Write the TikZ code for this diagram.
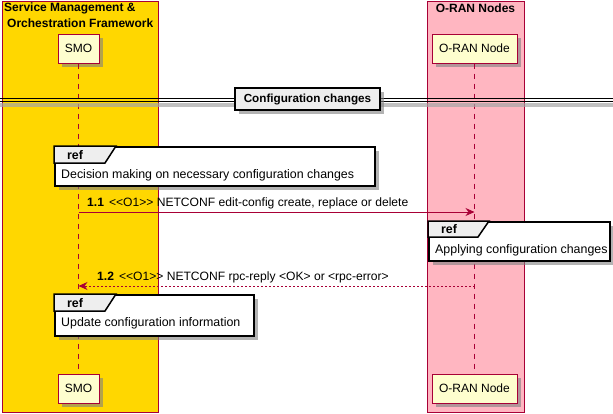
\documentclass[tikz,border=0pt]{standalone}
\usepackage{fontspec}
\setmainfont{Liberation Sans}
\usetikzlibrary{arrows.meta,shadows,calc}
\definecolor{pumlred}{HTML}{A80036}
\definecolor{pumlyel}{HTML}{FEFECE}
\definecolor{boxgold}{HTML}{FFD700}
\definecolor{boxpink}{HTML}{FFB6C1}
\definecolor{tabgray}{HTML}{EEEEEE}
\begin{document}
\begin{tikzpicture}[x=1pt,y=-1pt,
  softshadow/.style={drop shadow={shadow xshift=4pt,shadow yshift=-4pt,fill=black!50,opacity=0.6}},
  part/.style={draw=pumlred,fill=pumlyel,line width=1pt,minimum height=29pt,inner sep=0pt,
    font=\fontsize{12}{14}\selectfont,softshadow},
  grp/.style={draw=pumlred,line width=1pt,anchor=north west,inner sep=0pt},
  grptitle/.style={font=\bfseries\fontsize{12}{15}\selectfont,inner sep=0pt},
  life/.style={draw=pumlred,line width=0.8pt,dash pattern=on 5pt off 5pt},
  refframe/.style={draw=black,line width=1.5pt,fill=white,anchor=north west,inner sep=0pt,softshadow},
  reftab/.style={draw=black,line width=1.5pt,fill=tabgray},
  reflabel/.style={font=\bfseries\fontsize{12.4}{14}\selectfont,inner sep=0pt},
  reftext/.style={font=\fontsize{12.4}{14}\selectfont,inner sep=0pt,anchor=west},
  msg/.style={draw=pumlred,line width=0.8pt,-{Stealth[length=9pt,width=8pt,inset=3pt]}},
  msgtext/.style={font=\fontsize{12.1}{14}\selectfont,inner sep=0pt,anchor=west},
  divbox/.style={draw=black,line width=1.5pt,fill=tabgray,inner sep=0pt,minimum width=145pt,minimum height=22pt,
    font=\bfseries\fontsize{11.7}{14}\selectfont,softshadow}
]
\useasboundingbox (0,0) rectangle (613,413);
% groups
\node[grp,fill=boxgold,minimum width=156pt,minimum height=411.5pt] (gsmo) at (1.5,0.5) {};
\node[grp,fill=boxpink,minimum width=97pt,minimum height=411.5pt] (goran) at (427,0.5) {};
\node[grptitle,anchor=west] (gsmot1) at (4,8) {Service Management \&};
\node[grptitle,anchor=west] (gsmot2) at (7,23) {Orchestration Framework};
\node[grptitle] (gorant) at (475.5,8) {O-RAN Nodes};
% participants
\node[part,minimum width=41pt] (smot) at (78.5,48.5) {SMO};
\node[part,minimum width=85pt] (orant) at (474.5,48.5) {O-RAN Node};
\node[part,minimum width=41pt] (smob) at (78.5,388.5) {SMO};
\node[part,minimum width=85pt] (oranb) at (474.5,388.5) {O-RAN Node};
% lifelines
\draw[life] (smot.south) -- (smob.north);
\draw[life] (orant.south) -- (oranb.north);
% divider
\fill[black!35,opacity=0.7] (0,102.5) rectangle (613,106.5);
\draw[black,line width=1pt] (0,98.5) -- (613,98.5);
\draw[black,line width=1pt] (0,101.5) -- (613,101.5);
\node[divbox] (div) at (307.5,99) {Configuration changes};
% ref 1
\node[refframe,minimum width=320pt,minimum height=39pt] (ref1) at (54,146) {};
\draw[reftab] (ref1.north west) -- ++(62,0) -- ++(-11,17) -- ++(-51,0) -- cycle;
\node[reflabel] (ref1l) at (75,155) {ref};
\node[reftext] (ref1x) at (61,175.5) {Decision making on necessary configuration changes};
% message 1.1
\coordinate (m11a) at (smot.south |- 0,212);
\coordinate (m11b) at (orant.south |- 0,212);
\draw[msg] (m11a) -- (m11b);
\node[msgtext] (m11t) at (87,203.5) {\textbf{1.1}\hspace{5pt}<{}<O1>{}> NETCONF edit-config create, replace or delete};
% ref 2
\node[refframe,minimum width=181pt,minimum height=39pt] (ref2) at (428,221) {};
\draw[reftab] (ref2.north west) -- ++(61,0) -- ++(-11,16) -- ++(-50,0) -- cycle;
\node[reflabel] (ref2l) at (449,229.5) {ref};
\node[reftext] (ref2x) at (435,250) {Applying configuration changes};
% message 1.2
\coordinate (m12a) at (orant.south |- 0,286);
\coordinate (m12b) at (smot.south |- 0,286);
\draw[msg,dash pattern=on 2pt off 2pt] (m12a) -- (m12b);
\node[msgtext] (m12t) at (97,277.5) {\textbf{1.2}\hspace{5pt}<{}<O1>{}> NETCONF rpc-reply <OK> or <rpc-error>};
% ref 3
\node[refframe,minimum width=199pt,minimum height=41pt] (ref3) at (54,294) {};
\draw[reftab] (ref3.north west) -- ++(62,0) -- ++(-11,17) -- ++(-51,0) -- cycle;
\node[reflabel] (ref3l) at (75,303) {ref};
\node[reftext] (ref3x) at (61,323.5) {Update configuration information};
\end{tikzpicture}
\end{document}
